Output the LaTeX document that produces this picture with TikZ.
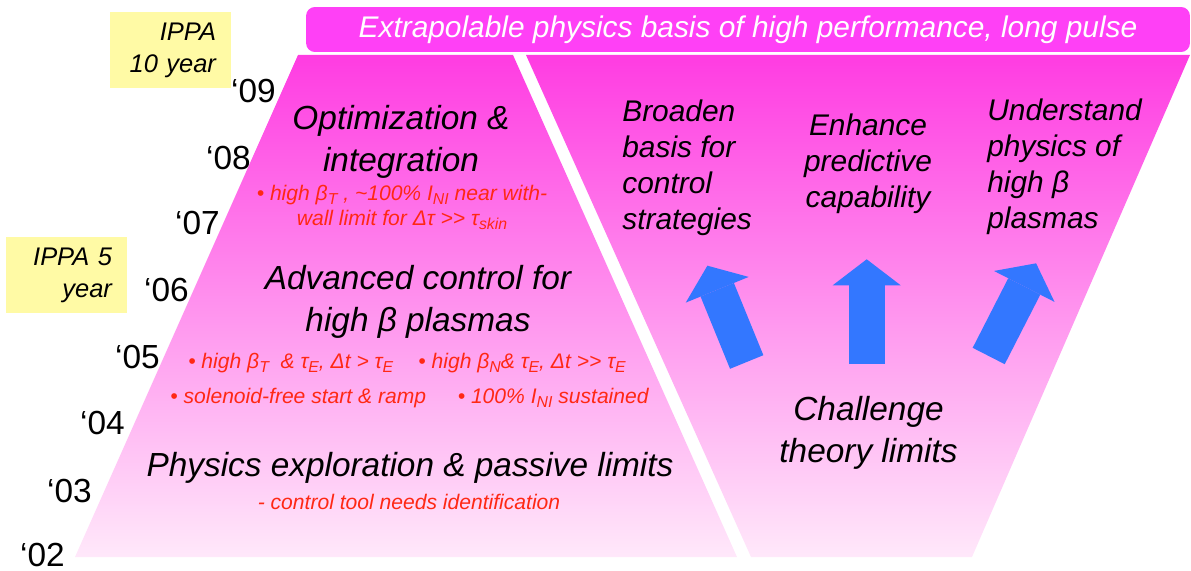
\documentclass[tikz,border=0pt]{standalone}
\usepackage{fontspec}
\setmainfont{Liberation Sans}
\usetikzlibrary{arrows.meta, positioning}
\definecolor{bannermag}{RGB}{255,64,246}
\definecolor{toppink}{RGB}{255,60,226}
\definecolor{midpink}{RGB}{255,160,238}
\definecolor{botpink}{RGB}{255,232,250}
\definecolor{arrowblue}{RGB}{51,119,255}
\definecolor{ippayellow}{RGB}{255,250,165}
\definecolor{notered}{RGB}{255,40,20}
\newcommand{\lowsub}[1]{\raisebox{-0.35ex}{\fontsize{9}{9}\selectfont #1}}
\tikzset{
  stage/.style  ={font=\fontsize{19}{24}\selectfont\itshape, align=center, inner sep=0pt},
  goal/.style   ={font=\fontsize{17}{20.5}\selectfont\itshape, inner sep=0pt},
  note/.style   ={font=\fontsize{12}{14.2}\selectfont\itshape, text=notered,
                  align=center, inner sep=0pt},
  yearlbl/.style={font=\fontsize{19}{19}\selectfont, anchor=east, inner sep=0pt},
  ippabox/.style={fill=ippayellow, text width=1.82cm, align=right, inner xsep=0.3cm,
                  minimum height=1.52cm, font=\fontsize{14.5}{18.2}\selectfont\itshape},
  banner/.style ={fill=bannermag, rounded corners=5pt, minimum width=17.68cm,
                  minimum height=0.9cm, text=white, font=\fontsize{17}{20}\selectfont\itshape},
  bigarrow/.style={draw=arrowblue, line width=0.72cm,
                  -{Triangle[length=0.52cm, width=1.36cm, line width=0pt]}}
}
\begin{document}
\begin{tikzpicture}[x=0.02cm, y=-0.02cm]
    \useasboundingbox (0,0) rectangle (1191,571);
    % the two trapezoids
    \shade[top color=toppink, middle color=midpink, bottom color=botpink]
      (298,55) -- (513,55) -- (737,557) -- (75,557) -- cycle;
    \shade[top color=toppink, middle color=midpink, bottom color=botpink]
      (526,55) -- (1190,55) -- (972,557) -- (751,557) -- cycle;
    \node[banner] (basis) at (748,29.5) {Extrapolable physics basis of high performance, long pulse};
    % plan boxes
    \node[ippabox] (ippa10) at (170.5,50) {IPPA\\10 year};
    \node[ippabox] (ippa5) at (66.5,275) {IPPA 5\\year};
    % years
    \node[yearlbl] (y09) at (276,91) {‘09};
    \node[yearlbl] (y08) at (251,158) {‘08};
    \node[yearlbl] (y07) at (220,223) {‘07};
    \node[yearlbl] (y06) at (189,290) {‘06};
    \node[yearlbl] (y05) at (160,357) {‘05};
    \node[yearlbl] (y04) at (125,423) {‘04};
    \node[yearlbl] (y03) at (92,491) {‘03};
    \node[yearlbl] (y02) at (65,555) {‘02};
    % left side
    \node[stage] (optim) at (401,141.5) {Optimization \&\\integration};
    \node[note] (optnote) at (402,207.5)
      {\textbullet\ high β\lowsub{T} , \textasciitilde100\% I\lowsub{NI} near with-\\
       wall limit for Δτ >\kern0pt> τ\lowsub{skin}};
    \node[stage] (advctl) at (418,302) {Advanced control for\\high β plasmas};
    \node[note] (advnote1) at (407,363)
      {\textbullet\ high β\lowsub{T} \ \& τ\lowsub{E}, Δt > τ\lowsub{E}\hspace{1.2em}%
       \textbullet\ high β\lowsub{N}\& τ\lowsub{E}, Δt >\kern0pt> τ\lowsub{E}};
    \node[note] (advnote2) at (409.5,398)
      {\textbullet\ solenoid-free start \& ramp\hspace{1.5em}\textbullet\ 100\% I\lowsub{NI} sustained};
    \node[stage] (physexp) at (410,468) {Physics exploration \& passive limits};
    \node[note] (physnote) at (409,502) {- control tool needs identification};
    % right side
    \node[goal, align=left, anchor=west] (broaden) at (622,167.5) {Broaden\\basis for\\control\\strategies};
    \node[goal, align=center] (enhance) at (868,163.5) {Enhance\\predictive\\capability};
    \node[goal, align=left, anchor=west] (understand) at (987,166.5) {Understand\\physics of\\high β\\plasmas};
    \node[stage] (challenge) at (868.5,433) {Challenge\\theory limits};
    \coordinate (lfoot) at (746.7,362);
    \coordinate (ltip) at (707.4,265.7);
    \coordinate (mfoot) at (866.7,364);
    \coordinate (mtip) at (866.7,259.3);
    \coordinate (rfoot) at (988.7,356);
    \coordinate (rtip) at (1036.1,263.3);
    \draw[bigarrow] (lfoot) -- (ltip);
    \draw[bigarrow] (mfoot) -- (mtip);
    \draw[bigarrow] (rfoot) -- (rtip);
  \end{tikzpicture}
\end{document}
